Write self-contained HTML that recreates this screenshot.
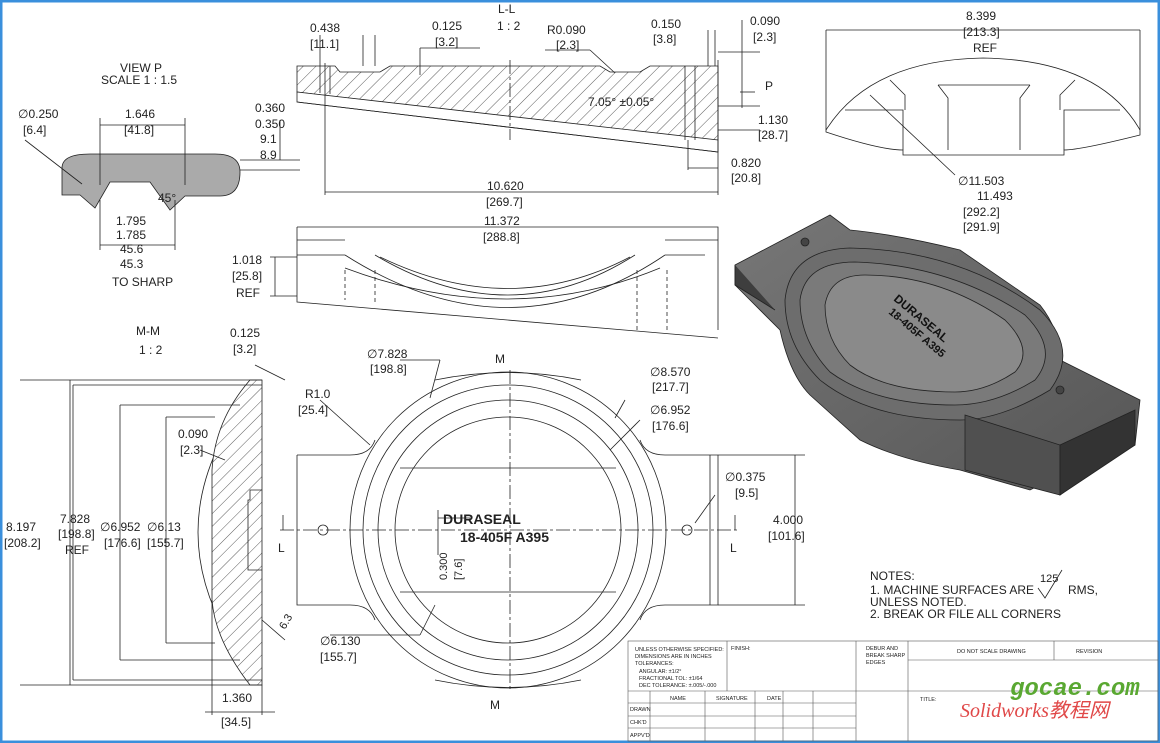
<!DOCTYPE html>
<html><head><meta charset="utf-8"><style>
html,body{margin:0;padding:0;background:#fff}
svg{display:block}
text{font-family:"Liberation Sans",sans-serif;fill:#222}
</style></head><body>
<svg width="1160" height="743" viewBox="0 0 1160 743" xmlns="http://www.w3.org/2000/svg">
<defs>
<pattern id="h" width="9" height="9" patternUnits="userSpaceOnUse" patternTransform="rotate(45)">
<rect width="9" height="9" fill="#fff"/><line x1="0" y1="0" x2="0" y2="9" stroke="#333" stroke-width="0.8"/>
</pattern>
<linearGradient id="g3" x1="0" y1="0" x2="1" y2="1"><stop offset="0" stop-color="#777"/><stop offset="1" stop-color="#555"/></linearGradient>
</defs>
<rect x="0" y="0" width="1160" height="743" fill="#fff"/>
<rect x="1" y="1" width="1158" height="741" fill="none" stroke="#3a8fdc" stroke-width="3"/>

<g stroke="#222" stroke-width="0.8" fill="none">
<!-- VIEW P -->
<path d="M62,195 L62,168 Q62,154 90,154 L215,154 Q240,154 240,172 Q240,196 220,196 L185,196 L170,210 L150,182 L110,182 L95,208 L80,195 Z" fill="#aaa"/>
<line x1="100" y1="118" x2="100" y2="185"/><line x1="185" y1="118" x2="185" y2="185"/>
<line x1="100" y1="125" x2="185" y2="125"/>
<line x1="100" y1="200" x2="100" y2="250"/><line x1="175" y1="200" x2="175" y2="250"/>
<line x1="100" y1="245" x2="175" y2="245"/>
<line x1="240" y1="160" x2="300" y2="160"/><line x1="240" y1="170" x2="300" y2="170"/>
<line x1="280" y1="120" x2="280" y2="160"/>
<line x1="25" y1="140" x2="82" y2="184"/>

<!-- L-L section -->
<path d="M297,66 L335,66 L340,72 L380,72 L390,66 L600,66 L610,72 L640,72 L650,66 L718,66 L718,140 L697,140 L297,92 Z" fill="url(#h)"/>
<path d="M297,92 L718,140 L718,152 L297,102 Z" fill="#fff"/>
<line x1="297" y1="102" x2="718" y2="152"/>
<line x1="330" y1="66" x2="330" y2="94"/><line x1="320" y1="66" x2="320" y2="93"/>
<line x1="685" y1="66" x2="685" y2="140"/><line x1="695" y1="66" x2="695" y2="140"/>
<line x1="510" y1="60" x2="510" y2="140" stroke-dasharray="14 3 3 3"/>
<line x1="325" y1="63" x2="325" y2="195"/><line x1="718" y1="60" x2="718" y2="195"/>
<line x1="325" y1="192" x2="718" y2="192"/>
<line x1="688" y1="140" x2="688" y2="170"/><line x1="688" y1="168" x2="718" y2="168"/>
<line x1="718" y1="106" x2="760" y2="106"/><line x1="718" y1="52" x2="760" y2="52"/>
<line x1="742" y1="20" x2="742" y2="108"/>
<line x1="740" y1="92" x2="755" y2="92"/>
<line x1="718" y1="130" x2="760" y2="130"/>
<line x1="375" y1="35" x2="375" y2="66"/><line x1="363" y1="35" x2="363" y2="66"/>
<line x1="320" y1="35" x2="320" y2="66"/>
<line x1="420" y1="48" x2="480" y2="48"/><line x1="420" y1="48" x2="420" y2="75"/>
<line x1="545" y1="50" x2="590" y2="50"/><line x1="590" y1="50" x2="615" y2="73"/>
<line x1="708" y1="30" x2="708" y2="66"/><line x1="715" y1="30" x2="715" y2="66"/>

<!-- front view -->
<path d="M297,227 L718,227 L718,330 M297,227 L297,302 L718,338"/>
<line x1="297" y1="240" x2="345" y2="240"/><line x1="665" y1="240" x2="718" y2="240"/>
<line x1="297" y1="255" x2="345" y2="255"/><line x1="665" y1="255" x2="705" y2="255"/>
<path d="M345,255 Q510,360 665,255"/>
<path d="M375,255 Q510,335 635,255"/>
<path d="M380,257 Q510,320 630,257"/>
<path d="M345,268 Q510,330 660,268"/>
<line x1="345" y1="270" x2="345" y2="300" stroke-dasharray="4 3"/><line x1="375" y1="270" x2="375" y2="305" stroke-dasharray="4 3"/>
<line x1="637" y1="270" x2="637" y2="330" stroke-dasharray="4 3"/><line x1="667" y1="270" x2="667" y2="332" stroke-dasharray="4 3"/>
<line x1="270" y1="257" x2="297" y2="257"/><line x1="270" y1="296" x2="297" y2="296"/>
<line x1="275" y1="257" x2="275" y2="296"/>

<!-- dome top right -->
<path d="M826,130 Q870,60 983,58 Q1100,60 1140,130 L1140,135 Q1080,150 1064,150 L1064,155 L903,155 L903,150 Q880,150 826,132 Z"/>
<line x1="826" y1="30" x2="826" y2="130"/><line x1="1140" y1="30" x2="1140" y2="130"/>
<line x1="826" y1="30" x2="1140" y2="30"/>
<path d="M845,110 L903,110 L903,150 M1064,150 L1064,110 L1120,110"/>
<path d="M890,80 L905,95 L905,110 M1075,80 L1060,95 L1060,110"/>
<path d="M938,85 L948,98 L948,150 M1030,85 L1020,98 L1020,150 M938,85 L1030,85"/>
<line x1="870" y1="95" x2="955" y2="175"/>

<!-- M-M section -->
<path d="M262,380 Q134,532 262,685" />
<path d="M262,380 L262,685 L250,685 Q215,640 212,600 L212,470 Q215,420 250,380 Z" fill="url(#h)"/>
<path d="M262,490 L250,490 L250,500 L248,500 L248,570 L262,570"/>
<line x1="20" y1="380" x2="262" y2="380"/><line x1="70" y1="380" x2="70" y2="685"/>
<line x1="20" y1="685" x2="262" y2="685"/>
<line x1="73" y1="385" x2="262" y2="385"/><line x1="73" y1="385" x2="73" y2="680"/><line x1="73" y1="680" x2="262" y2="680"/>
<line x1="120" y1="405" x2="240" y2="405"/><line x1="120" y1="405" x2="120" y2="660"/><line x1="120" y1="660" x2="240" y2="660"/>
<line x1="166" y1="417" x2="215" y2="417"/><line x1="166" y1="417" x2="166" y2="643"/><line x1="166" y1="643" x2="215" y2="643"/>
<line x1="212" y1="600" x2="212" y2="715"/><line x1="262" y1="685" x2="262" y2="715"/>
<line x1="205" y1="712" x2="275" y2="712"/>
<line x1="255" y1="365" x2="285" y2="380"/>
<line x1="262" y1="620" x2="285" y2="640"/>
<line x1="200" y1="450" x2="225" y2="460"/>

<!-- plan view -->
<path d="M297,455 L350,455 Q370,455 375,440 M297,455 L297,605 L350,605 Q370,605 375,620"/>
<path d="M718,455 L665,455 Q645,455 640,440 M718,455 L718,605 L665,605 Q645,605 640,620"/>
<path d="M435,380 Q508,365 581,380"/>
<path d="M435,680 Q508,695 581,680"/>
<circle cx="508" cy="530" r="158"/>
<circle cx="508" cy="530" r="145"/>
<circle cx="508" cy="530" r="130"/>
<circle cx="508" cy="530" r="113"/>
<line x1="400" y1="468" x2="616" y2="468"/><line x1="400" y1="592" x2="616" y2="592"/>
<line x1="510" y1="370" x2="510" y2="690" stroke-dasharray="14 3 3 3"/>
<line x1="280" y1="530" x2="740" y2="530" stroke-dasharray="14 3 3 3"/>
<circle cx="323" cy="530" r="5"/><circle cx="687" cy="530" r="5"/>
<line x1="710" y1="455" x2="710" y2="605"/>
<line x1="718" y1="455" x2="805" y2="455"/><line x1="718" y1="605" x2="805" y2="605"/>
<line x1="795" y1="455" x2="795" y2="605"/>
<line x1="283" y1="515" x2="283" y2="530"/><line x1="735" y1="515" x2="735" y2="530"/>
<line x1="438" y1="510" x2="438" y2="555"/><line x1="438" y1="518" x2="470" y2="518"/>
<line x1="320" y1="400" x2="370" y2="445"/>
<line x1="625" y1="400" x2="615" y2="418"/>
<line x1="640" y1="420" x2="610" y2="450"/>
<line x1="330" y1="635" x2="420" y2="635"/><line x1="420" y1="635" x2="435" y2="605"/>
<line x1="715" y1="495" x2="695" y2="523"/>
<line x1="400" y1="360" x2="440" y2="360"/><line x1="440" y1="360" x2="430" y2="398"/>
</g>

<!-- 3D part -->
<g stroke="#222" stroke-width="0.8">
<path d="M735,265 L830,215 L850,230 Q900,235 960,250 L1040,305 Q1060,330 1060,360 L1140,400 L1135,445 L1100,465 L1060,495 L1050,480 L1030,490 L960,470 Q900,460 860,440 L810,395 Q790,375 780,330 L750,300 L735,285 Z" fill="url(#g3)"/>
<path d="M785,300 Q790,250 850,248 Q960,250 1040,310 Q1080,350 1050,390 Q1000,420 960,420 Q870,420 820,380 Q785,345 785,300 Z" fill="#6d6d6d"/>
<path d="M800,300 Q805,262 855,262 Q950,265 1025,315 Q1060,350 1035,380 Q995,405 955,405 Q875,405 830,372 Q800,340 800,300 Z" fill="#7a7a7a"/>
<path d="M825,305 Q830,275 865,275 Q940,275 1005,320 Q1035,350 1015,372 Q985,392 955,392 Q885,392 850,365 Q825,340 825,305 Z" fill="#8a8a8a"/>
<path d="M735,265 L735,285 L775,310" fill="#3e3e3e"/>
<path d="M965,415 L1060,445 L1060,495 L965,470 Z" fill="#505050"/>
<path d="M1060,445 L1135,410 L1135,445 L1060,495 Z" fill="#333"/>
<circle cx="805" cy="242" r="4" fill="#444"/><circle cx="1060" cy="390" r="4" fill="#444"/>
</g>
<text x="0" y="0" font-size="12" font-weight="bold" transform="translate(893,300) rotate(40)" style="fill:#111">DURASEAL</text>
<text x="0" y="0" font-size="11" font-weight="bold" transform="translate(888,313) rotate(40)" style="fill:#111">18-405F A395</text>

<!-- texts -->
<g font-size="12">
<text x="120" y="72">VIEW P</text><text x="101" y="84">SCALE 1 : 1.5</text>
<text x="18" y="118">∅0.250</text><text x="23" y="134">[6.4]</text>
<text x="125" y="118">1.646</text><text x="124" y="134">[41.8]</text>
<text x="255" y="112">0.360</text><text x="255" y="128">0.350</text><text x="260" y="143">9.1</text><text x="260" y="159">8.9</text>
<text x="158" y="202">45°</text>
<text x="116" y="225">1.795</text><text x="116" y="239">1.785</text><text x="120" y="253">45.6</text><text x="120" y="268">45.3</text>
<text x="112" y="286">TO SHARP</text>
<text x="310" y="32">0.438</text><text x="310" y="48">[11.1]</text>
<text x="432" y="30">0.125</text><text x="435" y="46">[3.2]</text>
<text x="498" y="13">L-L</text><text x="497" y="30">1 : 2</text>
<text x="547" y="34">R0.090</text><text x="556" y="49">[2.3]</text>
<text x="651" y="28">0.150</text><text x="653" y="43">[3.8]</text>
<text x="750" y="25">0.090</text><text x="753" y="41">[2.3]</text>
<text x="765" y="90">P</text>
<text x="588" y="106">7.05° ±0.05°</text>
<text x="758" y="124">1.130</text><text x="758" y="139">[28.7]</text>
<text x="731" y="167">0.820</text><text x="731" y="182">[20.8]</text>
<text x="487" y="190">10.620</text><text x="486" y="206">[269.7]</text>
<text x="484" y="225">11.372</text><text x="483" y="241">[288.8]</text>
<text x="232" y="264">1.018</text><text x="232" y="280">[25.8]</text><text x="236" y="297">REF</text>
<text x="966" y="20">8.399</text><text x="963" y="36">[213.3]</text><text x="973" y="52">REF</text>
<text x="958" y="185">∅11.503</text><text x="977" y="200">11.493</text><text x="963" y="216">[292.2]</text><text x="963" y="231">[291.9]</text>
<text x="136" y="335">M-M</text><text x="139" y="354">1 : 2</text>
<text x="230" y="337">0.125</text><text x="233" y="353">[3.2]</text>
<text x="178" y="438">0.090</text><text x="180" y="454">[2.3]</text>
<text x="6" y="531">8.197</text><text x="4" y="547">[208.2]</text>
<text x="60" y="523">7.828</text><text x="58" y="538">[198.8]</text><text x="65" y="554">REF</text>
<text x="100" y="531">∅6.952</text><text x="104" y="547">[176.6]</text>
<text x="147" y="531">∅6.13</text><text x="147" y="547">[155.7]</text>
<text x="222" y="702">1.360</text><text x="221" y="726">[34.5]</text>
<text x="278" y="552">L</text><text x="730" y="552">L</text>
<text x="495" y="363">M</text><text x="490" y="709">M</text>
<text x="367" y="358">∅7.828</text><text x="370" y="373">[198.8]</text>
<text x="305" y="398">R1.0</text><text x="298" y="414">[25.4]</text>
<text x="650" y="376">∅8.570</text><text x="652" y="391">[217.7]</text>
<text x="650" y="414">∅6.952</text><text x="652" y="430">[176.6]</text>
<text x="725" y="481">∅0.375</text><text x="735" y="497">[9.5]</text>
<text x="773" y="524">4.000</text><text x="768" y="540">[101.6]</text>
<text x="320" y="645">∅6.130</text><text x="320" y="661">[155.7]</text>
<text x="870" y="580">NOTES:</text>
<text x="870" y="594">1. MACHINE SURFACES ARE</text><text x="1068" y="594">RMS,</text>
<text x="1040" y="582" font-size="11">125</text>
<text x="870" y="606">UNLESS NOTED.</text>
<text x="870" y="618">2. BREAK OR FILE ALL CORNERS</text>
</g>
<path d="M1038,588 L1045,598 L1062,570" stroke="#222" fill="none" stroke-width="0.8"/>
<text x="0" y="0" font-size="14" font-weight="bold" transform="translate(443,524)" style="fill:#222">DURASEAL</text>
<text x="0" y="0" font-size="14" font-weight="bold" transform="translate(460,542)" style="fill:#222">18-405F A395</text>
<text x="0" y="0" font-size="11" transform="translate(447,580) rotate(-90)">0.300</text>
<text x="0" y="0" font-size="11" transform="translate(462,580) rotate(-90)">[7.6]</text>
<text x="0" y="0" font-size="11" transform="translate(285,630) rotate(-60)">6.3</text>

<!-- title block -->
<g stroke="#555" stroke-width="0.6" fill="none">
<rect x="628" y="641" width="530" height="100"/>
<line x1="727" y1="641" x2="727" y2="691"/><line x1="856" y1="641" x2="856" y2="741"/>
<line x1="908" y1="641" x2="908" y2="741"/><line x1="1054" y1="641" x2="1054" y2="660"/>
<line x1="908" y1="660" x2="1158" y2="660"/>
<line x1="628" y1="691" x2="1158" y2="691"/>
<line x1="628" y1="703" x2="856" y2="703"/><line x1="628" y1="716" x2="856" y2="716"/><line x1="628" y1="728" x2="856" y2="728"/>
<line x1="650" y1="691" x2="650" y2="741"/><line x1="705" y1="691" x2="705" y2="741"/><line x1="755" y1="691" x2="755" y2="741"/>
<line x1="783" y1="691" x2="783" y2="741"/><line x1="813" y1="691" x2="813" y2="741"/>
</g>
<g font-size="5.5">
<text x="635" y="651">UNLESS OTHERWISE SPECIFIED:</text><text x="635" y="658">DIMENSIONS ARE IN INCHES</text>
<text x="635" y="665">TOLERANCES:</text><text x="639" y="673">ANGULAR: ±1/2°</text>
<text x="639" y="680">FRACTIONAL TOL: ±1/64</text><text x="639" y="687">DEC TOLERANCE: ±.005/-.000</text>
<text x="731" y="650">FINISH:</text>
<text x="866" y="650">DEBUR AND</text><text x="866" y="657">BREAK SHARP</text><text x="866" y="664">EDGES</text>
<text x="957" y="653">DO NOT SCALE DRAWING</text><text x="1076" y="653">REVISION</text>
<text x="670" y="700">NAME</text><text x="716" y="700">SIGNATURE</text><text x="767" y="700">DATE</text>
<text x="630" y="711">DRAWN</text><text x="630" y="724">CHK'D</text><text x="630" y="737">APPV'D</text>
<text x="920" y="701">TITLE:</text>
</g>
<text x="1010" y="695" font-size="24" font-style="italic" font-weight="bold" style="fill:#5aa832;font-family:'Liberation Mono',monospace">gocae.com</text>
<text x="960" y="717" font-size="20" font-style="italic" style="fill:#e04848;font-family:'Liberation Serif','Noto Sans CJK SC',serif">Solidworks教程网</text>
</svg>
</body></html>
